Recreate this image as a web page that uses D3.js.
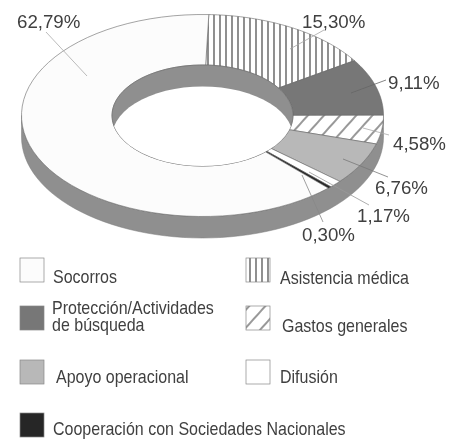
<!DOCTYPE html>
<html>
<head>
<meta charset="utf-8">
<script src="https://d3js.org/d3.v7.min.js"></script>
<style>
  html, body { margin: 0; padding: 0; background: #fff; }
  text { fill: #3f3f3f; }
  .pct { font-family: "Liberation Sans", Arial, sans-serif; font-size: 18.7px; }
  .legend-text { font-family: "Liberation Sans", Arial, sans-serif; font-size: 18px; }
</style>
</head>
<body>
<svg id="chart"></svg>
<script>
// Values, clockwise from the top of the ring
const categories = ["Asistencia médica", "Protección/Actividades de búsqueda", "Gastos generales",
    "Apoyo operacional", "Difusión", "Cooperación con Sociedades Nacionales", "Socorros"];
const values = [15.30, 9.11, 4.58, 6.76, 1.17, 0.30, 62.79];
const valueLabels = ["15,30%", "9,11%", "4,58%", "6,76%", "1,17%", "0,30%", "62,79%"];

const width = 462;
const height = 439;

const svg = d3.select("#chart")
    .attr("width", width)
    .attr("height", height)
    .style("display", "block");

const fills = {
    "Asistencia médica": "url(#vlines)",
    "Protección/Actividades de búsqueda": "#777777",
    "Gastos generales": "url(#diag)",
    "Apoyo operacional": "#b8b8b8",
    "Difusión": "#ffffff",
    "Cooperación con Sociedades Nacionales": "#262626",
    "Socorros": "#fcfcfc"
};

const defs = svg.append("defs");

// soft scan look of the printed page
defs.append("filter").attr("id", "soft")
    .append("feGaussianBlur").attr("stdDeviation", 0.5);

const vlines = defs.append("pattern").attr("id", "vlines")
    .attr("patternUnits", "userSpaceOnUse")
    .attr("x", 1).attr("width", 6).attr("height", 6);
vlines.append("rect").attr("width", 6).attr("height", 6).attr("fill", "#fff");
vlines.append("line").attr("x1", 3).attr("x2", 3).attr("y1", 0).attr("y2", 6)
    .attr("stroke", "#333").attr("stroke-width", 1.1);

const diag = defs.append("pattern").attr("id", "diag")
    .attr("patternUnits", "userSpaceOnUse")
    .attr("width", 12).attr("height", 12)
    .attr("patternTransform", "rotate(42)");
diag.append("rect").attr("width", 12).attr("height", 12).attr("fill", "#fff");
diag.append("line").attr("x1", 6).attr("x2", 6).attr("y1", 0).attr("y2", 12)
    .attr("stroke", "#444").attr("stroke-width", 1.1);

// --- ring geometry ---

const cx = 202.5, cy = 115.5;
const rx = 181, ry = 101;
const innerRatio = 0.5;
const depth = 21.5;

// tilted view: unit circle -> ellipse on the page
const xScale = d3.scaleLinear().domain([-1, 1]).range([cx - rx, cx + rx]);
const yScale = d3.scaleLinear().domain([-1, 1]).range([cy - ry, cy + ry]);

function project(angle, r, dy = 0) {
    return [xScale(r * Math.sin(angle)), yScale(-r * Math.cos(angle)) + dy];
}

function arcPoints(a0, a1, r, dy = 0) {
    return d3.range(0, 61).map(i => project(a0 + (a1 - a0) * i / 60, r, dy));
}

const line = d3.line();
const closed = pts => line(pts) + "Z";

const pie = d3.pie().sort(null)
    .startAngle(2 * Math.PI / 180)
    .endAngle(2 * Math.PI + 2 * Math.PI / 180);
const slices = pie(values);

const root = svg.append("g").attr("filter", "url(#soft)");

// --- outer wall (front half) ---

const wallColor = "#8f8f8f";

root.append("path")
    .attr("d", closed(arcPoints(Math.PI / 2, 3 * Math.PI / 2, 1)
        .concat(arcPoints(3 * Math.PI / 2, Math.PI / 2, 1, depth))))
    .attr("fill", wallColor)
    .attr("stroke", "#7a7a7a")
    .attr("stroke-width", 0.5);

// --- top face ---

root.append("g").selectAll("path")
    .data(slices)
    .join("path")
    .attr("d", d => closed(arcPoints(d.startAngle, d.endAngle, 1)
        .concat(arcPoints(d.endAngle, d.startAngle, innerRatio))))
    .attr("fill", (d, i) => fills[categories[i]])
    .attr("stroke", "#666")
    .attr("stroke-width", 0.6);

// --- hole: inner wall at the back, page showing through below it ---

const holeOutline = closed(arcPoints(0, 2 * Math.PI, innerRatio));

defs.append("clipPath").attr("id", "hole")
    .append("path").attr("d", holeOutline);

root.append("path")
    .attr("d", holeOutline)
    .attr("fill", wallColor)
    .attr("stroke", "#666")
    .attr("stroke-width", 0.6);

root.append("path")
    .attr("d", closed(arcPoints(0, 2 * Math.PI, innerRatio, depth)))
    .attr("clip-path", "url(#hole)")
    .attr("fill", "#fff");

// --- percentage labels and leader lines ---

// [text x, text baseline, leader from, leader to, leader colour]
const labelLayout = [
    [302, 28, [324, 30], [290, 49], "#a5a5a5"],
    [388, 89, [386, 80], [351, 93], "#666"],
    [393, 150, [389, 135], [363, 128], "#aaa"],
    [375, 194, [388, 177], [343, 159], "#777"],
    [357, 222, [369, 205], [309, 172], "#999"],
    [302, 241, [323, 222], [302, 175], "#888"],
    [17, 28, [46, 32], [87, 76], "#aaa"]
];

root.append("g").selectAll("line")
    .data(labelLayout)
    .join("line")
    .attr("x1", d => d[2][0]).attr("y1", d => d[2][1])
    .attr("x2", d => d[3][0]).attr("y2", d => d[3][1])
    .attr("stroke", d => d[4])
    .attr("stroke-width", 0.8);

root.append("g").selectAll("text")
    .data(valueLabels)
    .join("text")
    .attr("class", "pct")
    .attr("x", (d, i) => labelLayout[i][0])
    .attr("y", (d, i) => labelLayout[i][1])
    .text(d => d);

// --- legend ---

const legendItems = [
    {key: "Socorros", x: 20, y: 258, tx: 53, lines: [["Socorros", 283]]},
    {key: "Asistencia médica", x: 246, y: 258, tx: 280, lines: [["Asistencia médica", 284]]},
    {key: "Protección/Actividades de búsqueda", x: 20, y: 306, tx: 52,
        lines: [["Protección/Actividades", 314], ["de búsqueda", 331]]},
    {key: "Gastos generales", x: 246, y: 306, tx: 282, lines: [["Gastos generales", 332]]},
    {key: "Apoyo operacional", x: 20, y: 360, tx: 56, lines: [["Apoyo operacional", 383]]},
    {key: "Difusión", x: 246, y: 360, tx: 280, lines: [["Difusión", 383]]},
    {key: "Cooperación con Sociedades Nacionales", x: 20, y: 413, tx: 53,
        lines: [["Cooperación con Sociedades Nacionales", 435]]}
];

const legend = root.append("g").attr("class", "legend-container");

legend.selectAll("rect")
    .data(legendItems)
    .join("rect")
    .attr("x", d => d.x)
    .attr("y", d => d.y)
    .attr("width", 24)
    .attr("height", 24)
    .attr("fill", d => fills[d.key])
    .attr("stroke", "#888")
    .attr("stroke-width", 0.7);

// no narrow face is installed, so the sans is squeezed to the printed width
const narrow = 0.89;

legend.selectAll("g")
    .data(legendItems)
    .join("g")
    .selectAll("text")
    .data(d => d.lines.map(l => ({text: l[0], y: l[1], x: d.tx})))
    .join("text")
    .attr("class", "legend-text")
    .attr("transform", d => `translate(${d.x}, ${d.y}) scale(${narrow}, 1)`)
    .text(d => d.text);
</script>
</body>
</html>
